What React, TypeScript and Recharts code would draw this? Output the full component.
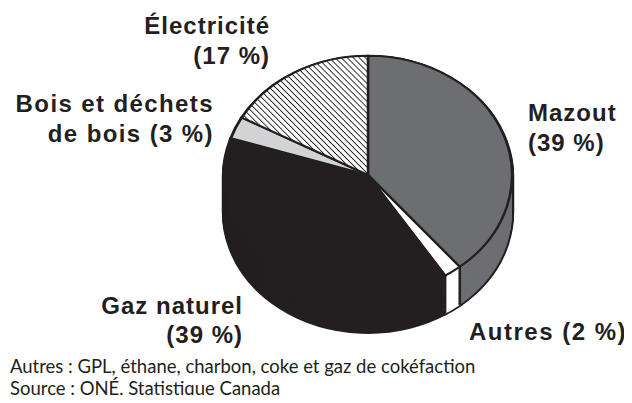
import { Cell, Pie, PieChart } from "recharts";

// Sources d'énergie, part en %
const categories = ["Mazout", "Autres", "Gaz naturel", "Bois et déchets de bois", "Électricité"];
const shares = [39, 2, 39, 3, 17];

const footnotes = [
  "Autres : GPL, éthane, charbon, coke et gaz de cokéfaction",
  "Source : ONÉ, Statistique Canada",
];

const pieData = categories.map((name, i) => ({ name, value: shares[i] }));

const INK = "#231f20";
const topFills = ["#6d6e71", "#ffffff", INK, "#d1d3d4", "url(#elecHatch)"];
const sideFills = ["#6d6e71", "#ffffff", INK, "#d1d3d4", "#ffffff"];

// the pie is drawn round, then squashed vertically to look tilted
const SQUASH = 120 / 145;
const CX = 368;
const CY = 175 / SQUASH;
const R = 144;
const DEPTH = 46;
const layerOffsets = Array.from({ length: 16 }, (_, i) => DEPTH - i * 3);

const RAD = Math.PI / 180;

// vertical edge on the visible side wall, at each slice boundary in front
function SideEdge(props: any) {
  const { cx, cy, outerRadius, startAngle } = props;
  const down = Math.sin(-startAngle * RAD);
  if (down <= 0.05) return null;
  const x = cx + outerRadius * Math.cos(-startAngle * RAD);
  const y = cy + outerRadius * down;
  return <line x1={x} y1={y} x2={x} y2={y + DEPTH} stroke={INK} strokeWidth={2.5} />;
}

const labelStyle: React.CSSProperties = {
  position: "absolute",
  fontFamily: "'Liberation Sans', Arial, sans-serif",
  fontWeight: 700,
  fontSize: 24,
  lineHeight: "30px",
  color: INK,
  whiteSpace: "nowrap",
  letterSpacing: 1,
};

export default function App() {
  return (
    <div style={{ position: "relative", width: 632, height: 403, margin: -8, background: "#fff", overflow: "hidden" }}>
      <svg width={0} height={0} style={{ position: "absolute" }}>
        <defs>
          <pattern
            id="elecHatch"
            patternUnits="userSpaceOnUse"
            width={10}
            height={4.6}
            patternTransform="rotate(50.4)"
          >
            <rect width={10} height={4.6} fill="#fff" />
            <line x1={0} y1={2.3} x2={10} y2={2.3} stroke={INK} strokeWidth={1} />
          </pattern>
        </defs>
      </svg>

      <div
        style={{
          position: "absolute",
          left: 0,
          top: 0,
          width: 632,
          height: 440,
          transform: `scaleY(${SQUASH})`,
          transformOrigin: "0 0",
        }}
      >
        <PieChart width={632} height={440} margin={{ top: 0, right: 0, bottom: 0, left: 0 }}>
          {layerOffsets.map((off) => (
            <Pie
              key={`outline-${off}`}
              data={pieData}
              dataKey="value"
              cx={CX}
              cy={CY + off}
              outerRadius={R}
              startAngle={90}
              endAngle={-270}
              fill={INK}
              stroke={INK}
              strokeWidth={4}
              isAnimationActive={false}
            />
          ))}
          {layerOffsets.filter((off) => off > 0).map((off) => (
            <Pie
              key={`side-${off}`}
              data={pieData}
              dataKey="value"
              cx={CX}
              cy={CY + off}
              outerRadius={R}
              startAngle={90}
              endAngle={-270}
              stroke="none"
              isAnimationActive={false}
            >
              {pieData.map((d, i) => (
                <Cell key={d.name} fill={sideFills[i]} />
              ))}
            </Pie>
          ))}
          <Pie
            data={pieData}
            dataKey="value"
            cx={CX}
            cy={CY}
            outerRadius={R}
            startAngle={90}
            endAngle={-270}
            stroke={INK}
            strokeWidth={2.5}
            label={SideEdge}
            labelLine={false}
            isAnimationActive={false}
          >
            {pieData.map((d, i) => (
              <Cell key={d.name} fill={topFills[i]} />
            ))}
          </Pie>
        </PieChart>
      </div>

      <div style={{ ...labelStyle, right: 632 - 270, top: 11, textAlign: "right" }}>
        Électricité
        <br />
        (17 %)
      </div>
      <div style={{ ...labelStyle, right: 632 - 214, top: 89, textAlign: "right", letterSpacing: 1.4 }}>
        Bois et déchets
        <br />
        de bois (3 %)
      </div>
      <div style={{ ...labelStyle, left: 528, top: 98 }}>
        Mazout
        <br />
        (39 %)
      </div>
      <div style={{ ...labelStyle, right: 632 - 243, top: 291, lineHeight: "29px", textAlign: "right" }}>
        Gaz naturel
        <br />
        (39 %)
      </div>
      <div style={{ ...labelStyle, left: 469, top: 317, letterSpacing: 1.5 }}>Autres (2 %)</div>

      <div
        style={{
          position: "absolute",
          left: 10,
          top: 355,
          fontFamily: "Lato, 'Noto Sans', sans-serif",
          fontSize: 18.5,
          lineHeight: "22px",
          color: INK,
          whiteSpace: "nowrap",
        }}
      >
        {footnotes.map((t) => (
          <div key={t}>{t}</div>
        ))}
      </div>
    </div>
  );
}
